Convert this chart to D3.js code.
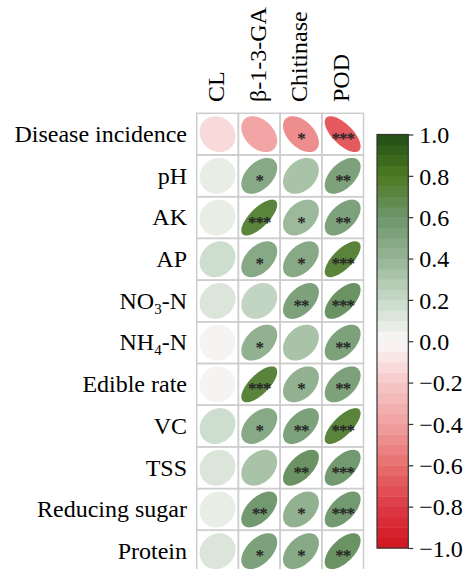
<!DOCTYPE html>
<html><head><meta charset="utf-8">
<script src="https://cdn.jsdelivr.net/npm/d3@7"></script>
<style>html,body{margin:0;padding:0;background:#fff;overflow:hidden}</style>
</head><body>
<svg id="c" width="470" height="569"></svg>
<script>
const rowsLab = ["Disease incidence","pH","AK","AP","NO3-N","NH4-N","Edible rate","VC","TSS","Reducing sugar","Protein"];
const colsLab = ["CL","β-1-3-GA","Chitinase","POD"];
const rCL   = [-0.12, 0.07, 0.07, 0.16, 0.13, 0.02, 0.02, 0.15, 0.10, 0.08, 0.11];
const rBGA  = [-0.37, 0.45, 0.72, 0.45, 0.22, 0.44, 0.70, 0.45, 0.32, 0.55, 0.50];
const rChi  = [-0.47, 0.33, 0.38, 0.46, 0.50, 0.32, 0.40, 0.52, 0.60, 0.40, 0.46];
const rPOD  = [-0.68, 0.52, 0.52, 0.70, 0.63, 0.50, 0.50, 0.72, 0.58, 0.58, 0.60];
const sCL   = ["","","","","","","","","","",""];
const sBGA  = ["","*","***","*","","*","***","*","","**","*"];
const sChi  = ["*","","*","*","**","","*","**","**","*","*"];
const sPOD  = ["***","**","**","***","***","**","**","***","***","***","**"];
const colorTicks = [-1,-0.8,-0.6,-0.4,-0.2,0,0.2,0.4,0.6,0.8,1];

const R = [rCL,rBGA,rChi,rPOD], S = [sCL,sBGA,sChi,sPOD];
const svg = d3.select("#c");
const FONT = "Liberation Serif, Times New Roman, serif";
const cell = 41.7, gx = 196.7, gy = 113.3;
const x = d3.scaleBand().domain(colsLab).range([gx, gx + cell*colsLab.length]);
const y = d3.scaleBand().domain(rowsLab).range([gy, gy + cell*rowsLab.length]);

const col = d3.scaleLinear()
  .domain([-1,-0.8,-0.6,-0.4,-0.2,0,0.2,0.4,0.6,0.8,1])
  .range(["#d2141c","#dd3a46","#e86e6e","#f0a0a0","#f6c8c8","#fbf8f8","#c8dac8","#96b595","#6e956c","#4e7a20","#1f4e14"])
  .interpolate(d3.interpolateRgb);
const nb = 40;
const qcol = v => { let i = Math.min(nb-1, Math.floor((v+1)/2*nb)); return col(-1 + (i+0.5)*2/nb); };

const cells = [];
rowsLab.forEach((r,i)=>colsLab.forEach((c,j)=>cells.push({r,c,v:R[j][i],s:S[j][i]})));

// grid
svg.append("g").selectAll("rect").data(cells).join("rect")
  .attr("x",d=>x(d.c)).attr("y",d=>y(d.r)).attr("width",x.bandwidth()).attr("height",y.bandwidth())
  .attr("fill","none").attr("stroke","#cdcdcd").attr("stroke-width",1.5);

// ellipses
const ks = d3.range(0,100).map(i=>i/99*2*Math.PI);
svg.append("g").selectAll("path").data(cells).join("path")
  .attr("d",d=>{
    const a = Math.acos(d.v), cx = x(d.c)+x.bandwidth()/2, cy = y(d.r)+y.bandwidth()/2, s = 0.86*cell/2;
    return d3.line()(ks.map(k=>[cx + s*Math.cos(k+a/2), cy - s*Math.cos(k-a/2)])) + "Z";
  })
  .attr("fill",d=>qcol(d.v));

// stars
svg.append("g").selectAll("text").data(cells.filter(d=>d.s)).join("text")
  .attr("x",d=>x(d.c)+x.bandwidth()/2).attr("y",d=>y(d.r)+y.bandwidth()/2+10)
  .attr("text-anchor","middle").attr("font-family",FONT).attr("font-size",17).attr("font-weight","bold")
  .attr("fill","#262626").attr("letter-spacing",-1).text(d=>d.s);

// row labels
const rl = svg.append("g").selectAll("text").data(rowsLab).join("text")
  .attr("x",187).attr("y",d=>y(d)+y.bandwidth()/2+7.8)
  .attr("text-anchor","end").attr("font-family",FONT).attr("font-size",24).attr("fill","#000");
rl.each(function(d){
  const t = d3.select(this);
  const m = d.match(/^(NO|NH)(\d)(-N)$/);
  if(m){
    t.append("tspan").text(m[1]);
    t.append("tspan").text(m[2]).attr("font-size",15).attr("dy",5);
    t.append("tspan").text(m[3]).attr("dy",-5);
  } else t.text(d);
});

// column labels
svg.append("g").selectAll("text").data(colsLab).join("text")
  .attr("transform",d=>`translate(${x(d)+x.bandwidth()/2+6.5},102) rotate(-90)`)
  .attr("font-family",FONT).attr("font-size",24).attr("fill","#000").text(d=>d);

// colorbar
const cbx = 377, cbw = 31.3;
const cy = d3.scaleLinear().domain([-1,1]).range([548,134.5]);
const bands = d3.range(nb).map(i=>-1 + i*2/nb);
svg.append("g").selectAll("rect").data(bands).join("rect")
  .attr("x",cbx).attr("y",d=>cy(d+2/nb)).attr("width",cbw).attr("height",d=>cy(d)-cy(d+2/nb)+0.5)
  .attr("fill",d=>col(d+1/nb));
svg.append("rect").attr("x",cbx).attr("y",cy(1)).attr("width",cbw).attr("height",cy(-1)-cy(1))
  .attr("fill","none").attr("stroke","#333").attr("stroke-width",1.2);
const ax = svg.append("g").attr("transform",`translate(${cbx+cbw},0)`)
  .call(d3.axisRight(cy).tickValues(colorTicks).tickFormat(d3.format(".1f")).tickSize(5).tickPadding(6));
ax.select(".domain").remove();
ax.selectAll(".tick line").attr("stroke","#333").attr("stroke-width",1.2);
ax.selectAll(".tick text").attr("font-family",FONT).attr("font-size",24).attr("fill","#000").attr("dy","0.34em");
</script>
</body></html>
